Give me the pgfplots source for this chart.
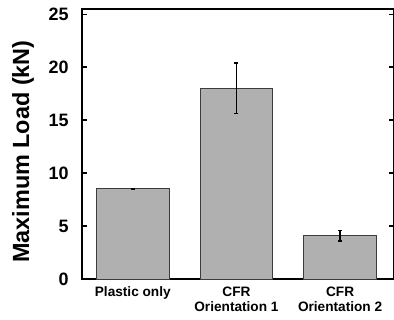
\documentclass[border=0pt]{standalone}
\usepackage{fontspec}
\setmainfont{Liberation Sans}
\usepackage{pgfplots}
\pgfplotsset{compat=1.18}
\definecolor{barfill}{RGB}{176,176,176}
\definecolor{baredge}{RGB}{60,60,60}
\pgfplotstableread{
x y err
0 8.5 0.05
1 18.0 2.4
2 4.1 0.5
}\loaddata
\begin{document}
\begin{tikzpicture}
\begin{axis}[
 scale only axis, width=312bp, height=270bp,
 xmin=-0.49, xmax=2.52, ymin=0, ymax=25.5,
 xtick={0,1,2},
 xticklabels={Plastic only, CFR\\Orientation 1, CFR\\Orientation 2},
 xticklabel style={align=center, font=\fontsize{13.7}{16}\selectfont\bfseries, yshift=-4bp},
 x tick style={draw=none},
 ytick={0,5,...,25},
 yticklabel style={font=\fontsize{18}{20}\selectfont\bfseries, xshift=-10bp},
 /pgf/number format/assume math mode=true,
 tick align=inside, major tick length=5bp,
 ytick pos=both,
 y tick style={black, line width=1.5bp},
 axis line style={line width=2bp, black},
 ylabel={Maximum Load (kN)},
 ylabel style={font=\fontsize{23.5}{26}\selectfont\bfseries, at={(axis description cs:0,0.472)}, anchor=center, yshift=59bp},
 clip=false,
]
\addplot[ybar, bar width=0.7, fill=barfill, draw=baredge, line width=1bp,
  error bars/.cd, y dir=both, y explicit,
  error bar style={black, line width=1.3bp},
  error mark options={rotate=90, black, line width=1.3bp, mark size=2bp}]
  table[x=x, y=y, y error=err] {\loaddata};
\end{axis}
\pgfresetboundingbox
\path[use as bounding box] ([xshift=-82bp,yshift=-41bp]current axis.south west) rectangle ([yshift=9bp]current axis.north east);
\end{tikzpicture}
\end{document}
